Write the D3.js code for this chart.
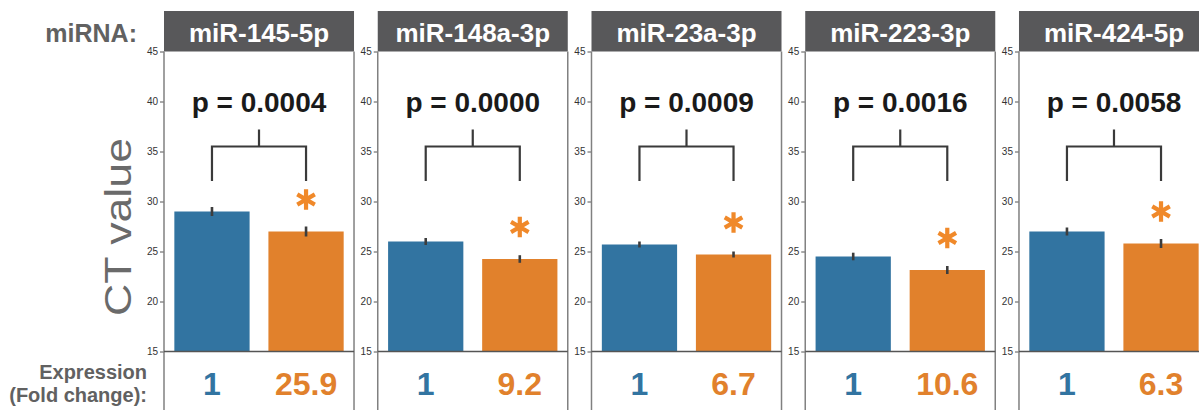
<!DOCTYPE html>
<html>
<head>
<meta charset="utf-8">
<script src="https://cdn.jsdelivr.net/npm/d3@7"></script>
<style>
  html, body { margin: 0; padding: 0; background: #fff; }
  svg { display: block; font-family: "Liberation Sans", Arial, sans-serif; }
</style>
</head>
<body>
<svg id="chart" width="1199" height="410"></svg>
<script>
// ---- data ----
const mirnas = ["miR-145-5p", "miR-148a-3p", "miR-23a-3p", "miR-223-3p", "miR-424-5p"];
const groups = ["control", "case"];
const ctControl = [29.0, 26.0, 25.7, 24.5, 27.0];
const ctCase = [27.0, 24.25, 24.7, 23.15, 25.8];
const errControl = [0.45, 0.35, 0.3, 0.38, 0.4];
const errCase = [0.5, 0.38, 0.3, 0.4, 0.45];
const pValues = ["0.0004", "0.0000", "0.0009", "0.0016", "0.0058"];
const foldControl = ["1", "1", "1", "1", "1"];
const foldCase = ["25.9", "9.2", "6.7", "10.6", "6.3"];
const yTicks = [15, 20, 25, 30, 35, 40, 45];

// ---- style / layout ----
const colors = { control: "#3274a1", case: "#e1812c" };
const bracketLevels = { legs: 32.05, bar: 35.5, stem: 37.2 };
const starOffset = 3.2;

const svg = d3.select("#chart");

const panelX = d3.scaleBand().domain(mirnas).range([164, 1209]).paddingInner(0.111);
const y = d3.scaleLinear().domain([15, 45]).range([351.5, 51.5]);
const x = d3.scaleBand().domain(groups).range([0, panelX.bandwidth()]).paddingInner(0.2).paddingOuter(0.11);

// left labels
svg.append("text").attr("x", 137).attr("y", 42).attr("text-anchor", "end")
  .attr("font-size", 25).attr("font-weight", "bold").attr("fill", "#616161").text("miRNA:");

svg.append("text")
  .attr("transform", "translate(131,227) rotate(-90)")
  .attr("text-anchor", "middle")
  .attr("font-size", 36).attr("fill", "#6a6a6a")
  .attr("textLength", 178).attr("lengthAdjust", "spacingAndGlyphs")
  .text("CT value");

svg.append("text").attr("x", 147).attr("y", 379).attr("text-anchor", "end")
  .attr("font-size", 20).attr("font-weight", "bold").attr("fill", "#616161").text("Expression");
svg.append("text").attr("x", 147).attr("y", 402).attr("text-anchor", "end")
  .attr("font-size", 20).attr("font-weight", "bold").attr("fill", "#616161").text("(Fold change):");

const star = d3.symbol().type(d3.symbolAsterisk).size(290);

mirnas.forEach((m, i) => {
  const g = svg.append("g").attr("transform", `translate(${panelX(m)},0)`);
  const W = panelX.bandwidth();
  const vals = { control: ctControl[i], case: ctCase[i] };
  const errs = { control: errControl[i], case: errCase[i] };
  const folds = { control: foldControl[i], case: foldCase[i] };

  // header
  g.append("rect").attr("x", 0).attr("y", 11).attr("width", W).attr("height", y(45) - 11)
    .attr("fill", "#58585a");
  g.append("text").attr("x", W / 2).attr("y", 42).attr("text-anchor", "middle")
    .attr("font-size", 26).attr("font-weight", "bold").attr("fill", "#ffffff").text(m);

  // bars
  groups.forEach(k => {
    g.append("rect")
      .attr("x", x(k)).attr("width", x.bandwidth())
      .attr("y", y(vals[k])).attr("height", y(15) - y(vals[k]))
      .attr("fill", colors[k]);
    g.append("line")
      .attr("x1", x(k) + x.bandwidth() / 2).attr("x2", x(k) + x.bandwidth() / 2)
      .attr("y1", y(vals[k] - errs[k])).attr("y2", y(vals[k] + errs[k]))
      .attr("stroke", "#3d3d3d").attr("stroke-width", 2.6);
    g.append("text")
      .attr("x", x(k) + x.bandwidth() / 2).attr("y", 395)
      .attr("text-anchor", "middle").attr("font-size", 32).attr("font-weight", "bold")
      .attr("fill", colors[k]).text(folds[k]);
  });

  // asterisk (significance marker)
  const cx = x("case") + x.bandwidth() / 2;
  g.append("path")
    .attr("d", star())
    .attr("transform", `translate(${cx},${y(vals.case + starOffset)})`)
    .attr("fill", "none").attr("stroke", "#f0892a").attr("stroke-width", 4.2);

  // bracket
  const x1 = x("control") + x.bandwidth() / 2;
  const x2 = cx;
  const path = d3.path();
  path.moveTo(x1, y(bracketLevels.legs));
  path.lineTo(x1, y(bracketLevels.bar));
  path.lineTo(x2, y(bracketLevels.bar));
  path.lineTo(x2, y(bracketLevels.legs));
  path.moveTo((x1 + x2) / 2, y(bracketLevels.bar));
  path.lineTo((x1 + x2) / 2, y(bracketLevels.stem));
  g.append("path").attr("d", path.toString()).attr("fill", "none")
    .attr("stroke", "#3a3a3a").attr("stroke-width", 2.2);

  // p value
  g.append("text").attr("x", (x1 + x2) / 2).attr("y", 112).attr("text-anchor", "middle")
    .attr("font-size", 28).attr("font-weight", "bold").attr("fill", "#1a1a1a")
    .text("p = " + pValues[i]);

  // axis
  const ax = g.append("g").call(d3.axisLeft(y).tickValues(yTicks).tickSize(4).tickPadding(2));
  ax.select(".domain").remove();
  ax.selectAll(".tick line").attr("stroke", "#555");
  ax.selectAll(".tick text").attr("font-size", 10).attr("fill", "#333")
    .attr("font-family", "'Liberation Sans', Arial, sans-serif");

  // spines / boxes
  const spine = "#808080";
  g.append("line").attr("x1", 0).attr("x2", 0).attr("y1", y(45)).attr("y2", 410)
    .attr("stroke", spine).attr("stroke-width", 1.5);
  g.append("line").attr("x1", W).attr("x2", W).attr("y1", y(45)).attr("y2", 410)
    .attr("stroke", spine).attr("stroke-width", 1.5);
  g.append("line").attr("x1", 0).attr("x2", W).attr("y1", y(15)).attr("y2", y(15))
    .attr("stroke", "#555").attr("stroke-width", 1.5);
});
</script>
</body>
</html>
